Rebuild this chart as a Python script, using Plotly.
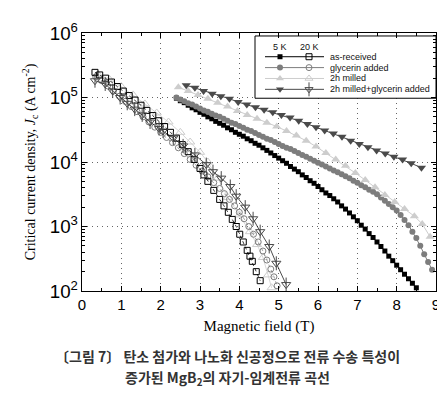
import numpy as np
import plotly.graph_objects as go

# ---------------- data (field in T, log10 Jc in A cm^-2) ----------------
# 5 K (filled symbols)
b5_as_received = [2.4,2.5,2.6,2.7,2.8,2.9,3.0,3.1,3.2,3.3,3.4,3.5,3.6,3.7,3.8,3.9,4.0,4.1,4.2,4.3,4.4,4.5,4.6,4.7,4.8,4.9,5.0,5.1,5.2,5.3,5.4,5.5,5.6,5.7,5.8,5.9,6.0,6.1,6.2,6.3,6.4,6.5,6.6,6.7,6.8,6.9,7.0,7.1,7.2,7.3,7.4,7.5,7.6,7.7,7.8,7.9,8.0,8.1,8.2,8.3,8.4,8.5]
lj5_as_received = [4.99,4.95,4.92,4.88,4.84,4.81,4.77,4.74,4.70,4.67,4.63,4.60,4.57,4.53,4.50,4.46,4.43,4.40,4.36,4.33,4.29,4.26,4.22,4.18,4.14,4.10,4.06,4.02,3.98,3.93,3.89,3.85,3.80,3.76,3.71,3.67,3.62,3.57,3.52,3.48,3.43,3.38,3.32,3.27,3.21,3.15,3.09,3.02,2.96,2.89,2.83,2.76,2.69,2.62,2.54,2.47,2.40,2.33,2.26,2.19,2.12,2.05]

b5_glycerin = [2.4,2.5,2.6,2.7,2.8,2.9,3.0,3.1,3.2,3.3,3.4,3.5,3.6,3.7,3.8,3.9,4.0,4.1,4.2,4.3,4.4,4.5,4.6,4.7,4.8,4.9,5.0,5.1,5.2,5.3,5.4,5.5,5.6,5.7,5.8,5.9,6.0,6.1,6.2,6.3,6.4,6.5,6.6,6.7,6.8,6.9,7.0,7.1,7.2,7.3,7.4,7.5,7.6,7.7,7.8,7.9,8.0,8.1,8.2,8.3,8.4,8.5,8.6,8.7,8.8,8.9]
lj5_glycerin = [5.00,4.97,4.94,4.91,4.89,4.86,4.83,4.80,4.78,4.75,4.72,4.70,4.67,4.64,4.61,4.59,4.56,4.53,4.50,4.48,4.45,4.42,4.39,4.36,4.34,4.31,4.28,4.25,4.22,4.20,4.17,4.14,4.11,4.08,4.05,4.02,3.99,3.96,3.93,3.90,3.87,3.84,3.81,3.78,3.75,3.71,3.68,3.64,3.61,3.57,3.54,3.50,3.45,3.40,3.35,3.30,3.25,3.18,3.10,3.02,2.92,2.82,2.70,2.57,2.45,2.33]

b5_milled = [2.45,2.7,2.95,3.2,3.45,3.7,3.95,4.2,4.45,4.7,4.95,5.2,5.45,5.7,5.95,6.2,6.45,6.7,6.95,7.2,7.45,7.7,7.95,8.2,8.45,8.65,8.85]
lj5_milled = [5.16,5.10,5.04,4.98,4.92,4.86,4.79,4.73,4.67,4.61,4.55,4.48,4.41,4.33,4.24,4.14,4.04,3.94,3.83,3.72,3.61,3.49,3.38,3.27,3.16,3.04,2.84]

b5_milled_gly = [2.65,2.87,3.09,3.31,3.53,3.75,3.97,4.19,4.41,4.63,4.85,5.07,5.29,5.51,5.73,5.95,6.17,6.39,6.61,6.83,7.05,7.27,7.49,7.71,7.93,8.15,8.37,8.63]
lj5_milled_gly = [5.19,5.15,5.10,5.06,5.02,4.98,4.93,4.89,4.85,4.81,4.77,4.73,4.69,4.64,4.59,4.54,4.49,4.44,4.39,4.33,4.28,4.23,4.18,4.13,4.08,4.04,3.98,3.91]

# 20 K (open symbols)
b20_as_received = [0.33,0.45,0.6,0.75,0.9,1.05,1.2,1.35,1.5,1.65,1.8,1.95,2.1,2.25,2.4,2.55,2.7,2.85,3.0,3.1,3.2,3.35,3.5,3.61,3.72,3.82,3.92,4.01,4.1,4.2,4.27,4.33,4.43,4.53]
lj20_as_received = [5.39,5.35,5.30,5.24,5.17,5.10,5.03,4.96,4.88,4.80,4.72,4.64,4.55,4.46,4.37,4.27,4.16,4.04,3.90,3.80,3.70,3.56,3.42,3.32,3.22,3.11,3.00,2.88,2.76,2.63,2.54,2.46,2.30,2.16]

b20_glycerin = [0.35,0.5,0.65,0.8,0.95,1.1,1.25,1.4,1.55,1.7,1.85,2.0,2.15,2.3,2.45,2.6,2.75,2.9,3.05,3.2,3.35,3.5,3.62,3.75,3.88,4.0,4.12,4.24,4.36,4.48,4.6,4.7,4.8,4.88,4.96]
lj20_glycerin = [5.32,5.26,5.18,5.10,5.02,4.94,4.86,4.78,4.70,4.62,4.54,4.46,4.38,4.30,4.22,4.13,4.04,3.95,3.86,3.77,3.68,3.59,3.51,3.42,3.32,3.22,3.12,3.00,2.88,2.76,2.62,2.48,2.34,2.22,2.08]

b20_milled = [0.4,0.7,1.0,1.3,1.6,1.9,2.2,2.5,2.75,3.0,3.2,3.45,3.71,4.0,4.27,4.45,4.6,4.73,4.82]
lj20_milled = [5.36,5.28,5.17,5.04,4.90,4.76,4.62,4.46,4.31,4.15,4.00,3.75,3.45,3.18,2.92,2.72,2.52,2.25,2.05]

b20_milled_gly = [0.33,0.59,0.78,0.97,1.15,1.34,1.53,1.73,1.96,2.06,2.32,2.57,2.87,3.16,3.33,3.54,3.77,3.92,4.15,4.35,4.53,4.76,4.94,5.19]
lj20_milled_gly = [5.26,5.21,5.10,5.00,4.91,4.82,4.73,4.62,4.52,4.48,4.37,4.25,4.11,3.96,3.85,3.75,3.62,3.47,3.30,3.12,2.92,2.69,2.43,2.10]

x_ticks = [0, 1, 2, 3, 4, 5, 6, 7, 8, 9]
legend_labels = ["as-received", "glycerin added", "2h milled", "2h milled+glycerin added"]

BLACK = "#000000"
GRAY = "#7d7d7d"
LIGHT = "#cdcdcd"
DARK = "#4a4a4a"

fig = go.Figure()

def jc(v):
    return 10 ** np.array(v)

# 5 K filled
fig.add_trace(go.Scatter(x=b5_as_received, y=jc(lj5_as_received), mode="lines+markers",
                         line=dict(color=BLACK, width=1),
                         marker=dict(symbol="square", size=5, color=BLACK)))
fig.add_trace(go.Scatter(x=b5_glycerin, y=jc(lj5_glycerin), mode="lines+markers",
                         line=dict(color=GRAY, width=1),
                         marker=dict(symbol="circle", size=6, color=GRAY)))
fig.add_trace(go.Scatter(x=b5_milled, y=jc(lj5_milled), mode="lines+markers",
                         line=dict(color=LIGHT, width=1),
                         marker=dict(symbol="triangle-up", size=8, color=LIGHT)))
fig.add_trace(go.Scatter(x=b5_milled_gly, y=jc(lj5_milled_gly), mode="lines+markers",
                         line=dict(color=DARK, width=1),
                         marker=dict(symbol="triangle-down", size=8, color=DARK)))

# 20 K open
fig.add_trace(go.Scatter(x=b20_milled, y=jc(lj20_milled), mode="lines+markers",
                         line=dict(color=LIGHT, width=0.8),
                         marker=dict(symbol="triangle-up-open", size=8, color=LIGHT, line=dict(width=1))))
fig.add_trace(go.Scatter(x=b20_glycerin, y=jc(lj20_glycerin), mode="lines+markers",
                         line=dict(color=GRAY, width=0.8, dash="dot"),
                         marker=dict(symbol="circle-open", size=6, color=GRAY, line=dict(width=1))))
fig.add_trace(go.Scatter(x=b20_as_received, y=jc(lj20_as_received), mode="lines+markers",
                         line=dict(color=BLACK, width=0.8, dash="dot"),
                         marker=dict(symbol="square-open", size=6, color=BLACK, line=dict(width=1))))
fig.add_trace(go.Scatter(x=b20_milled_gly, y=jc(lj20_milled_gly), mode="lines+markers",
                         line=dict(color=BLACK, width=0.7),
                         marker=dict(symbol="triangle-down-open", size=8, color=DARK, line=dict(width=1))))
fig.add_trace(go.Scatter(x=b20_milled_gly, y=jc(lj20_milled_gly), mode="markers",
                         marker=dict(symbol="line-ns-open", size=10, color=DARK, line=dict(width=1, color=DARK))))

# ---------------- custom legend on pixel overlay axes ----------------
L_PX, R_PX, T_PX, B_PX = 74, 428, 22, 283
W, H = 445, 394
box_x = [247, 428, 428, 247, 247]
box_y = [25, 25, 88, 88, 25]
row_y = [46, 57, 68, 79]
seg1, seg2 = (257, 286), (286, 316)
m1x, m2x, text_x = 272, 301, 320

styles = [
    (BLACK, "square", 5, "square-open", 6, BLACK),
    (GRAY, "circle", 6, "circle-open", 6, GRAY),
    (LIGHT, "triangle-up", 7, "triangle-up-open", 7, LIGHT),
    (DARK, "triangle-down", 7, "triangle-down-open", 7, DARK),
]

fig.add_trace(go.Scatter(x=box_x, y=box_y, mode="lines", fill="toself", fillcolor="white",
                         line=dict(color="black", width=1), xaxis="x2", yaxis="y2", hoverinfo="skip"))

for i, (c, fs, fsz, os_, osz, oc) in enumerate(styles):
    yy = row_y[i]
    fig.add_trace(go.Scatter(x=[seg1[0], seg1[1], seg2[1]], y=[yy, yy, yy], mode="lines",
                             line=dict(color=c, width=1), xaxis="x2", yaxis="y2"))
    fig.add_trace(go.Scatter(x=[m1x], y=[yy], mode="markers", xaxis="x2", yaxis="y2",
                             marker=dict(symbol=fs, size=fsz, color=c)))
    fig.add_trace(go.Scatter(x=[m2x], y=[yy], mode="markers", xaxis="x2", yaxis="y2",
                             marker=dict(symbol=os_, size=osz, color=oc, line=dict(width=1))))
    if i == 3:
        fig.add_trace(go.Scatter(x=[m2x], y=[yy], mode="markers", xaxis="x2", yaxis="y2",
                                 marker=dict(symbol="line-ns-open", size=10, color=DARK, line=dict(width=1, color=DARK))))
    fig.add_annotation(x=text_x, y=yy, xref="x2", yref="y2", text=legend_labels[i], showarrow=False,
                       xanchor="left", yanchor="middle",
                       font=dict(family="Liberation Sans", size=9, color="#111"))

fig.add_annotation(x=m1x, y=36, xref="x2", yref="y2", text="5 K", showarrow=False,
                   xanchor="center", yanchor="middle", font=dict(family="Liberation Sans", size=9, color="#111"))
fig.add_annotation(x=m2x, y=36, xref="x2", yref="y2", text="20 K", showarrow=False,
                   xanchor="center", yanchor="middle", font=dict(family="Liberation Sans", size=9, color="#111"))

# caption (paper coordinates)
def px_to_paper(xp, yp):
    return (xp - L_PX) / (R_PX - L_PX), (B_PX - yp) / (B_PX - T_PX)

cx, cy1 = px_to_paper(219, 349)
_, cy2 = px_to_paper(219, 371)
fig.add_annotation(x=cx, y=cy1, xref="paper", yref="paper",
                   text="<b>〔그림 7〕 탄소 첨가와 나노화 신공정으로 전류 수송 특성이</b>",
                   showarrow=False, xanchor="center", yanchor="middle",
                   font=dict(family="Noto Sans CJK KR", size=14, color="#333333"))
fig.add_annotation(x=cx, y=cy2, xref="paper", yref="paper",
                   text="<b>증가된 MgB<sub>2</sub>의 자기-임계전류 곡선</b>",
                   showarrow=False, xanchor="center", yanchor="middle",
                   font=dict(family="Noto Sans CJK KR", size=14, color="#333333"))

axis_common = dict(showline=True, linecolor="black", linewidth=1.2, mirror="allticks",
                   ticks="inside", ticklen=5, tickcolor="black",
                   showgrid=True, gridcolor="#666666", griddash="1px,4px", gridwidth=1,
                   zeroline=False,
                   tickfont=dict(family="Liberation Sans", size=15, color="black"))

fig.update_layout(
    width=W, height=H,
    margin=dict(l=L_PX, r=W - R_PX, t=T_PX, b=H - B_PX),
    paper_bgcolor="white", plot_bgcolor="white",
    showlegend=False,
    xaxis=dict(range=[0, 9], tickvals=x_ticks, ticktext=[str(v) for v in x_ticks],
               minor=dict(ticks="inside", ticklen=3, dtick=0.5, tickcolor="black", showgrid=False),
               title=dict(text="Magnetic field (T)", standoff=8,
                          font=dict(family="Liberation Serif", size=15, color="black")),
               **axis_common),
    yaxis=dict(type="log", range=[2, 6], dtick=1, exponentformat="power",
               minor=dict(ticks="inside", ticklen=3, dtick="D1", tickcolor="black", showgrid=False),
               title=dict(text="Critical current density, <i>J</i><sub>c</sub> (A cm<sup>-2</sup>)", standoff=10,
                          font=dict(family="Liberation Serif", size=14, color="black")),
               **axis_common),
    xaxis2=dict(range=[L_PX, R_PX], overlaying="x", visible=False, fixedrange=True),
    yaxis2=dict(range=[B_PX, T_PX], overlaying="y", visible=False, fixedrange=True),
)

fig.write_html("out.html")
